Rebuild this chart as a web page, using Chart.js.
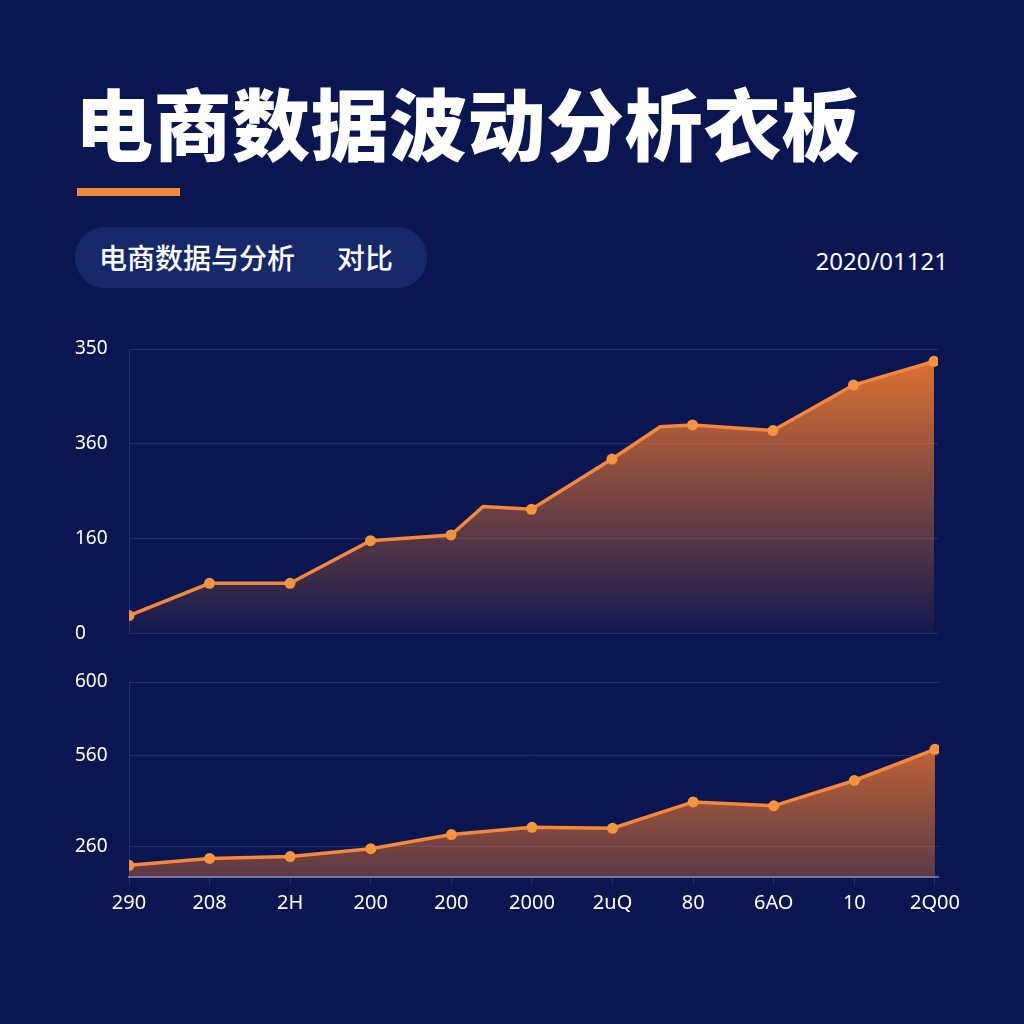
<!DOCTYPE html>
<html lang="zh-CN">
<head>
<meta charset="utf-8">
<title>电商数据波动分析衣板</title>
<script src="https://cdn.jsdelivr.net/npm/chart.js@4"></script>
<style>
  html, body { margin: 0; padding: 0; }
  body {
    width: 1024px; height: 1024px; overflow: hidden; position: relative;
    background: #0a1651;
    font-family: "Noto Sans CJK SC", "Noto Sans", sans-serif;
    color: #fff;
  }
  .title {
    position: absolute; left: 75px; top: 73px;
    font-size: 78px; font-weight: 900; letter-spacing: 0.5px; line-height: 96px;
    white-space: nowrap;
  }
  .accent {
    position: absolute; left: 77px; top: 188px; width: 103px; height: 8px;
    background: #f08a33;
  }
  .pill {
    position: absolute; left: 75px; top: 227px; width: 352px; height: 61px;
    border-radius: 30px; background: #15296a;
    box-sizing: border-box; padding-left: 24px;
    font-size: 28px; font-weight: 500; line-height: 61px; white-space: nowrap;
  }
  .pill span { margin-left: 42px; }
  .date {
    position: absolute; right: 76px; top: 245px;
    font-family: "Noto Sans", sans-serif; font-size: 24px; line-height: 32px;
  }
  .box { position: absolute; left: 66px; }
  #topBox { top: 335px; width: 890px; height: 310px; }
  #bottomBox { top: 665px; width: 900px; height: 260px; }
</style>
</head>
<body>
<div class="title">电商数据波动分析衣板</div>
<div class="accent"></div>
<div class="pill">电商数据与分析<span>对比</span></div>
<div class="date">2020/01121</div>
<div class="box" id="topBox"><canvas id="topChart"></canvas></div>
<div class="box" id="bottomBox"><canvas id="bottomChart"></canvas></div>

<script>
// category labels under the lower chart
const xLabels = ["290", "208", "2H", "200", "200", "2000", "2uQ", "80", "6AO", "10", "2Q00"];

// upper chart: x position (category index), kinks sit between categories
const topX = [0, 1, 2, 3, 4, 4.4, 5, 6, 6.6, 7, 8, 9, 10];
const topValues = [19, 53, 53, 98, 104, 134, 131, 184, 218, 220, 214, 262, 287];
const topTickValues = [0, 100, 200, 300];
const topTickLabels = ["0", "160", "360", "350"];

// lower chart
const bottomValues = [12, 19, 21, 29, 43.5, 51, 50, 77, 73, 99, 131];
const bottomTickValues = [0, 31.5, 125, 200];
const bottomTickLabels = ["", "260", "560", "600"];

const ORANGE = "#f5883a";
const GRID = "rgba(70,95,180,0.35)";
const FONT = "'Noto Sans', sans-serif";

function areaFill(topAlpha, bottomAlpha) {
  return (ctx) => {
    const area = ctx.chart.chartArea;
    if (!area) return "rgba(240,120,50,0.5)";
    const g = ctx.chart.ctx.createLinearGradient(0, area.top, 0, area.bottom);
    g.addColorStop(0, `rgba(242,122,48,${topAlpha})`);
    g.addColorStop(1, `rgba(242,122,48,${bottomAlpha})`);
    return g;
  };
}

Chart.defaults.animation = false;
Chart.defaults.font.family = FONT;

// ---- upper chart
new Chart(document.getElementById("topChart"), {
  type: "line",
  data: {
    datasets: [{
      data: topX.map((x, i) => ({ x: x, y: topValues[i] })),
      borderColor: ORANGE,
      borderWidth: 3.5,
      fill: "origin",
      backgroundColor: areaFill(0.95, 0.03),
      pointRadius: (ctx) => Number.isInteger(topX[ctx.dataIndex]) ? 5.5 : 0,
      pointBackgroundColor: "#f6933f",
      pointBorderWidth: 0,
      tension: 0,
    }],
  },
  options: {
    responsive: true,
    maintainAspectRatio: false,
    layout: { padding: { top: 14, bottom: 11, right: 18, left: 9 } },
    plugins: { legend: { display: false }, tooltip: { enabled: false } },
    scales: {
      x: { type: "linear", min: 0, max: 10.05, display: false },
      y: {
        min: 0, max: 300,
        afterBuildTicks: (s) => { s.ticks = topTickValues.map((v) => ({ value: v })); },
        afterFit: (s) => { s.width = 54; },
        ticks: {
          color: "#ffffff", font: { size: 19 }, padding: 0,
          crossAlign: "far",
          callback: (v) => topTickLabels[topTickValues.indexOf(v)],
        },
        grid: { color: GRID, drawTicks: false },
        border: { display: true, color: GRID },
      },
    },
  },
});

// ---- lower chart
new Chart(document.getElementById("bottomChart"), {
  type: "line",
  data: {
    datasets: [{
      data: bottomValues.map((v, i) => ({ x: i, y: v })),
      borderColor: ORANGE,
      borderWidth: 3.5,
      fill: "origin",
      backgroundColor: areaFill(1.0, 0.35),
      pointRadius: 5.5,
      pointBackgroundColor: "#f6933f",
      pointBorderWidth: 0,
      tension: 0,
    }],
  },
  options: {
    responsive: true,
    maintainAspectRatio: false,
    layout: { padding: { top: 17, bottom: 8, right: 18, left: 9 } },
    plugins: { legend: { display: false }, tooltip: { enabled: false } },
    scales: {
      x: {
        type: "linear", min: 0, max: 10.05,
        afterBuildTicks: (s) => { s.ticks = xLabels.map((_, i) => ({ value: i })); },
        afterFit: (s) => { s.height = 40; },
        ticks: {
          color: "#ffffff", font: { size: 20 }, padding: 6, maxRotation: 0,
          autoSkip: false,
          callback: (v) => xLabels[v],
        },
        grid: { drawOnChartArea: false, color: GRID, tickLength: 8 },
        border: { display: true, color: "rgba(110,130,210,0.8)", width: 2 },
      },
      y: {
        min: 0, max: 200,
        afterBuildTicks: (s) => { s.ticks = bottomTickValues.map((v) => ({ value: v })); },
        afterFit: (s) => { s.width = 54; },
        ticks: {
          color: "#ffffff", font: { size: 19 }, padding: 0,
          crossAlign: "far",
          callback: (v) => bottomTickLabels[bottomTickValues.indexOf(v)],
        },
        grid: { color: GRID, drawTicks: false },
        border: { display: true, color: GRID },
      },
    },
  },
});
</script>
</body>
</html>
